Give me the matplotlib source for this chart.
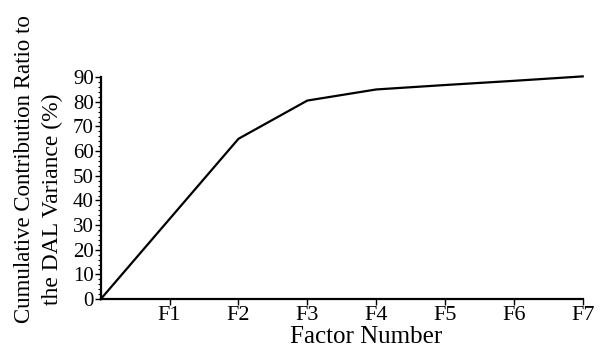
import numpy as np
import matplotlib.pyplot as plt
from matplotlib.ticker import MultipleLocator

plt.rcParams['font.family'] = ['Liberation Serif', 'DejaVu Serif']

# cumulative contribution ratio per factor (origin included)
factors = ['', 'F1', 'F2', 'F3', 'F4', 'F5', 'F6', 'F7']
ratio = [0, 32.5, 65, 80.5, 85, 86.8, 88.5, 90.3]

fig = plt.figure(figsize=(6.07, 3.49), dpi=100)
ax = fig.add_axes([0.166, 0.143, 0.794, 0.636])

x = np.arange(len(factors))
ax.plot(x, ratio, '-', c='k', lw=1.6, clip_on=False)

ax.set_xlim(0, 7)
ax.set_ylim(0, 90)
ax.set_xticks(x[1:])
ax.set_xticklabels(factors[1:])
ax.yaxis.set_major_locator(MultipleLocator(10))
ax.yaxis.set_minor_locator(MultipleLocator(2))

for s in ['top', 'right']:
    ax.spines[s].set_visible(False)
for s in ['left', 'bottom']:
    ax.spines[s].set_linewidth(1.6)

ax.tick_params(axis='y', labelsize=15, width=1, length=4, pad=1)
ax.tick_params(axis='x', labelsize=16, width=1, length=4, pad=1)
ax.tick_params(axis='y', which='minor', length=2, width=0.8)

fig.text(0.040, 0.516, 'Cumulative Contribution Ratio to', rotation=90,
         ha='center', va='center', fontsize=16.5)
fig.text(0.086, 0.430, 'the DAL Variance (%)', rotation=90,
         ha='center', va='center', fontsize=17)
fig.text(0.603, 0.035, 'Factor Number', ha='center', va='center', fontsize=18)

fig.savefig('out.png', dpi=100)
